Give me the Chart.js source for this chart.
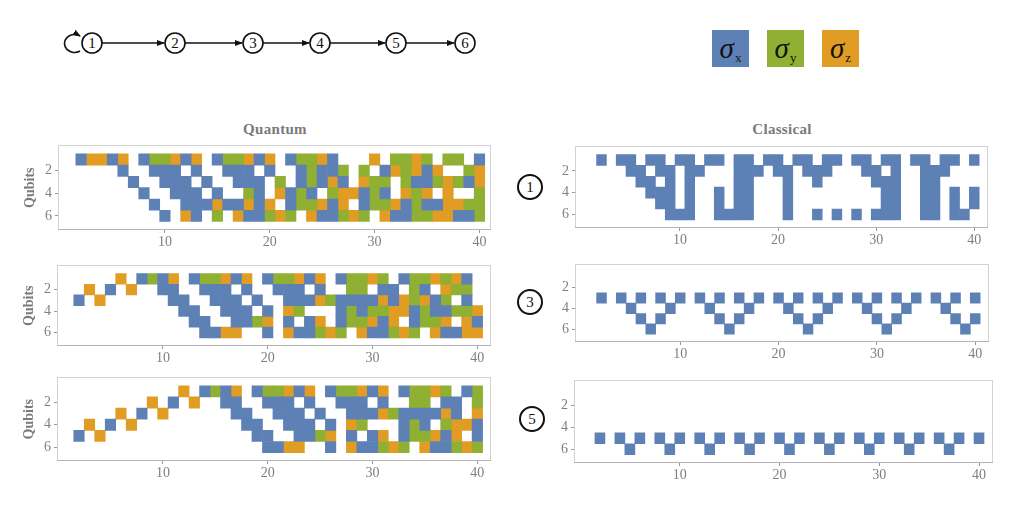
<!DOCTYPE html>
<html>
<head>
<meta charset="utf-8">
<script src="https://cdn.jsdelivr.net/npm/chart.js@4.4.0/dist/chart.umd.min.js"></script>
<style>
  body { margin: 0; background: #fff; width: 1017px; height: 509px; position: relative; overflow: hidden; font-family: "Liberation Serif", serif; }
  .abs { position: absolute; }
  .ttl { position: absolute; top: 121px; font-weight: bold; font-size: 15px; color: #7a7a7a; transform: translateX(-50%); letter-spacing: 0.3px; }
  .circ { position: absolute; width: 22px; height: 22px; border: 2px solid #111; border-radius: 50%; text-align: center; line-height: 22px; font-size: 15px; color: #111; transform: translate(-50%, -50%); }
  .leg { position: absolute; top: 30px; width: 37px; height: 37px; color: #111; text-align: center; line-height: 37px; white-space: nowrap; }
  .leg i { font-family: "Liberation Serif", serif; font-size: 29px; }
  .leg sub { font-size: 13px; vertical-align: -4px; margin-left: 1px; line-height: 0; }
</style>
</head>
<body>

<svg class="abs" style="left:0;top:0" width="520" height="80">
  <defs>
    <marker id="ah" markerWidth="8" markerHeight="8" refX="7" refY="4" orient="auto" markerUnits="userSpaceOnUse">
      <path d="M0,1 L8,4 L0,7 Z" fill="#111"/>
    </marker>
  </defs>
  <path d="M80,51 A10,9 0 1,1 80,36" fill="none" stroke="#111" stroke-width="1.6" marker-end="url(#ah)"/>
  <g id="chain"></g>
</svg>

<div class="leg" style="left:712px;background:#5E81B5"><i>σ</i><sub>x</sub></div>
<div class="leg" style="left:767px;background:#8FB032"><i>σ</i><sub>y</sub></div>
<div class="leg" style="left:822px;background:#E19C24"><i>σ</i><sub>z</sub></div>

<div class="ttl" style="left:275px">Quantum</div>
<div class="ttl" style="left:782px">Classical</div>

<div class="circ" style="left:530px;top:187px">1</div>
<div class="circ" style="left:530px;top:302px">3</div>
<div class="circ" style="left:532px;top:419px">5</div>

<div id="panels"></div>

<script>
// time steps (columns) and qubit rows
const steps = [1, 2, 3, 4, 5, 6, 7, 8, 9, 10, 11, 12, 13, 14, 15, 16, 17, 18, 19, 20,
  21, 22, 23, 24, 25, 26, 27, 28, 29, 30, 31, 32, 33, 34, 35, 36, 37, 38, 39, 40];
const qubits = [1, 2, 3, 4, 5, 6];
const xTicks = [10, 20, 30, 40];
const yTicks = [2, 4, 6];
const chainNodes = [1, 2, 3, 4, 5, 6];

const paulis = ['x', 'y', 'z'];
const pauliColors = { x: '#5E81B5', y: '#8FB032', z: '#E19C24' };

// one string per qubit, one char per step: x/y/z = sigma, . = identity
const quantum1 = [
  ".xzzxz.xyyzxz.xyyzxz.xyyzx...z.yyzy.yy.x",
  ".....x..xxx.x..xxx.x..xyxxy.y.xzyzxz..yz",
  "......x..xxx.x..xxx.y.xyxzx.zyy.yxxyzyxz",
  ".......x..xxx.x..yx.zxyx.yzzxyx.zyz.z..y",
  "........x..xxxzxxzxz.xyyzxz.xyyzxyxxzzyy",
  ".........x.zx.y.zxxyzy.zxxyzy.zxxyyzzxxy"
];
const quantum2 = [
  ".....z.xyxz.xyyzxz.xyyzxz.xyyzy.xyyzyzx.",
  "..z.x.z..xx..xxx.x..xxx.x..yy.xx.yx.zyy.",
  ".x.z......xx..xxx.x..xxxzyxxxxzxzyzxy.x.",
  "...........xx..xxx.x.zy...xyxyyzzxyxxyyz",
  "............xx..xxyz.x.xz.xyyzxz.xyyz.zx",
  ".............xxzz..x.zxxyzy.zxxyzy.zxxzz"
];
const quantum3 = [
  "...........z.xyxz.xyyzxz.xyyzxz.xyyzy.xy",
  "........z.x.z..xx..xxx.x..xxx.x..yy.xx.y",
  ".....z.x.z......xx..xxx.x..xxxzyxxxxzx.z",
  "..z.x.z..........xx..xxx.x.zy...xyx.yzzx",
  ".x.z..............xx..xxyz.x.xz.xyyzxz.x",
  "...................xxzz..x.zxxyzy.zxxyzy"
];
const classical1 = [
  ".x.xx.xx.xx.xx.xx.xx.xx.xx.xx.xx.xx.xx.x",
  "....xx.xx.xx...xxx.xx.xxx...xx.x..xxx...",
  ".....xx.x.x....xx...x..x.....xxx..xx....",
  "......xxx.x..x.xx...x.........xx..xx.x.x",
  ".......xx.x..x.xx...x.........xx..xx.x.x",
  "........xxx..xxxx...x..x.x.x.xxx..xx.xx."
];
const classical3 = [
  "........................................",
  "........................................",
  ".x.x.x.x.x.x.x.x.x.x.x.x.x.x.x.x.x.x.x.x",
  "....x...x...x...x...x...x...x...x...x...",
  ".....x.x.....x.x.....x.x.....x.x.....x.x",
  "......x.......x.......x.......x.......x."
];
const classical5 = [
  "........................................",
  "........................................",
  "........................................",
  "........................................",
  ".x.x.x.x.x.x.x.x.x.x.x.x.x.x.x.x.x.x.x.x",
  "....x...x...x...x...x...x...x...x...x..."
];

// chain diagram 1 -> 2 -> ... -> 6
const nodeX = [92, 175, 253, 320, 396, 465];
const chain = document.getElementById('chain');
let svg = '';
chainNodes.forEach((n, i) => {
  if (i < chainNodes.length - 1) {
    svg += `<line x1="${nodeX[i] + 10}" y1="43" x2="${nodeX[i + 1] - 11}" y2="43" stroke="#111" stroke-width="1.6" marker-end="url(#ah)"/>`;
  }
  svg += `<circle cx="${nodeX[i]}" cy="43" r="10" fill="#fff" stroke="#111" stroke-width="1.6"/>`;
  svg += `<text x="${nodeX[i]}" y="48" text-anchor="middle" font-family="Liberation Serif, serif" font-size="15" fill="#111">${n}</text>`;
});
chain.innerHTML = svg;

function cellsFor(grid, p) {
  const out = [];
  grid.forEach((row, r) => {
    steps.forEach((t, c) => {
      if (row[c] === p) out.push({ x: t, y: [qubits[r] - 0.5, qubits[r] + 0.5] });
    });
  });
  return out;
}

const framePlugin = {
  id: 'frame',
  afterDraw(chart) {
    const { ctx, chartArea: a } = chart;
    ctx.save();
    ctx.lineWidth = 1;
    ctx.strokeStyle = '#d2d2d2';
    ctx.strokeRect(Math.round(a.left) + 0.5, Math.round(a.top) + 0.5, Math.round(a.width) - 1, Math.round(a.height) - 1);
    ctx.strokeStyle = '#b4b4b4';
    ctx.beginPath();
    ctx.moveTo(a.left, Math.round(a.bottom) - 0.5);
    ctx.lineTo(a.right, Math.round(a.bottom) - 0.5);
    ctx.stroke();
    ctx.restore();
  }
};

const tickFont = { family: '"Liberation Serif", serif', size: 14 };
const PAD_TOP = 10;
const panels = [
  { grid: quantum1, frame: [58, 144, 491, 230], xr: [-0.2, 41.1], title: true },
  { grid: quantum2, frame: [57, 264, 491, 346], xr: [-0.1, 41.3], title: true },
  { grid: quantum3, frame: [57, 376, 491, 461], xr: [-0.1, 41.3], title: true },
  { grid: classical1, frame: [575, 145, 988, 228], xr: [-0.7, 41.4], title: false },
  { grid: classical3, frame: [575, 263, 989, 342], xr: [-0.7, 41.4], title: false },
  { grid: classical5, frame: [574, 379, 993, 463], xr: [-0.6, 41.4], title: false }
];

const holder = document.getElementById('panels');
panels.forEach(pn => {
  const [l, t, r, b] = pn.frame;
  const div = document.createElement('div');
  div.className = 'abs';
  div.style.left = (l - 50) + 'px';
  div.style.top = (t - PAD_TOP) + 'px';
  div.style.width = (r - l + 58) + 'px';
  div.style.height = (b - t + PAD_TOP + 24) + 'px';
  const cv = document.createElement('canvas');
  div.appendChild(cv);
  holder.appendChild(div);

  const datasets = paulis.map(p => ({
    label: 'σ' + p,
    data: cellsFor(pn.grid, p),
    backgroundColor: pauliColors[p],
    borderWidth: 0,
    grouped: false,
    barPercentage: 1,
    categoryPercentage: 1
  }));

  new Chart(cv, {
    type: 'bar',
    data: { datasets },
    options: {
      animation: false,
      responsive: true,
      maintainAspectRatio: false,
      layout: { padding: { top: PAD_TOP, right: 8, left: 0, bottom: 0 } },
      plugins: { legend: { display: false }, tooltip: { enabled: false } },
      scales: {
        x: {
          type: 'linear', min: pn.xr[0], max: pn.xr[1], offset: false,
          afterBuildTicks: s => { s.ticks = xTicks.map(v => ({ value: v })); },
          afterFit: s => { s.height = 24; },
          grid: { display: true, offset: false, drawOnChartArea: false, tickLength: 3, color: '#999' },
          border: { display: false },
          ticks: { color: '#7f7f7f', font: tickFont, padding: 1, maxRotation: 0 }
        },
        y: {
          type: 'linear', reverse: true, min: -0.25, max: 7.25,
          afterBuildTicks: s => { s.ticks = yTicks.map(v => ({ value: v })); },
          afterFit: s => { s.width = 50; },
          grid: { display: true, drawOnChartArea: false, tickLength: 3, color: '#999' },
          border: { display: false },
          ticks: { color: '#7f7f7f', font: tickFont, padding: 3 },
          title: {
            display: pn.title, text: 'Qubits', color: '#7a7a7a',
            font: { family: '"Liberation Serif", serif', size: 14, weight: 'bold' },
            padding: { top: 14, bottom: 0 }
          }
        }
      }
    },
    plugins: [framePlugin]
  });
});
</script>
</body>
</html>
